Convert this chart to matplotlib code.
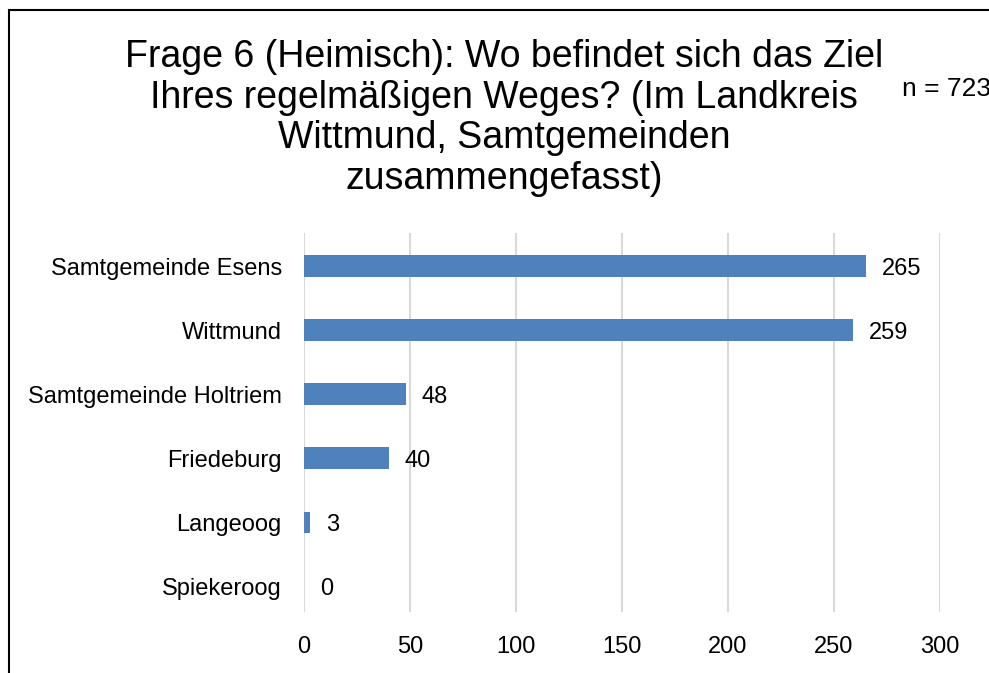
import matplotlib.pyplot as plt
from matplotlib.patches import Rectangle

plt.rcParams['font.family'] = ['Liberation Sans', 'DejaVu Sans']

categories = ["Samtgemeinde Esens", "Wittmund", "Samtgemeinde Holtriem",
              "Friedeburg", "Langeoog", "Spiekeroog"]
values = [265, 259, 48, 40, 3, 0]
xticks = [0, 50, 100, 150, 200, 250, 300]

title = ("Frage 6 (Heimisch): Wo befindet sich das Ziel\n"
         "Ihres regelmäßigen Weges? (Im Landkreis\n"
         "Wittmund, Samtgemeinden\n"
         "zusammengefasst)")

fig = plt.figure(figsize=(9.89, 6.73), dpi=100)
ax = fig.add_axes([0.3074, 0.0906, 0.6431, 0.5632])

pos = list(range(len(categories)))
ax.barh(pos, values, height=0.34, color="#4F81BD", zorder=2)
for p, v in zip(pos, values):
    ax.text(v + 7.5, p + 0.04, str(v), va="center", ha="left", fontsize=17)

ax.set_xlim(0, 300)
ax.set_ylim(5.4, -0.52)
ax.set_xticks(xticks)
ax.set_yticks(pos)
ax.set_yticklabels(categories)
ax.tick_params(axis="both", length=0, labelsize=17)
ax.tick_params(axis="y", pad=16)
ax.tick_params(axis="x", pad=17)
ax.grid(axis="x", color="#D9D9D9", linewidth=1.5, zorder=0)
for s in ax.spines.values():
    s.set_visible(False)

fig.text(0.510, 0.8247, title, ha="center", va="center", fontsize=27,
         linespacing=1.17)
fig.text(0.912, 0.868, "n = 723", ha="left", va="center", fontsize=19)

fig.patches.append(Rectangle((9 / 989, -0.1), 1.2, 1.1 - 10 / 673,
                             transform=fig.transFigure, fill=False,
                             edgecolor="black", linewidth=1.5))

fig.savefig("out.png", dpi=100)
